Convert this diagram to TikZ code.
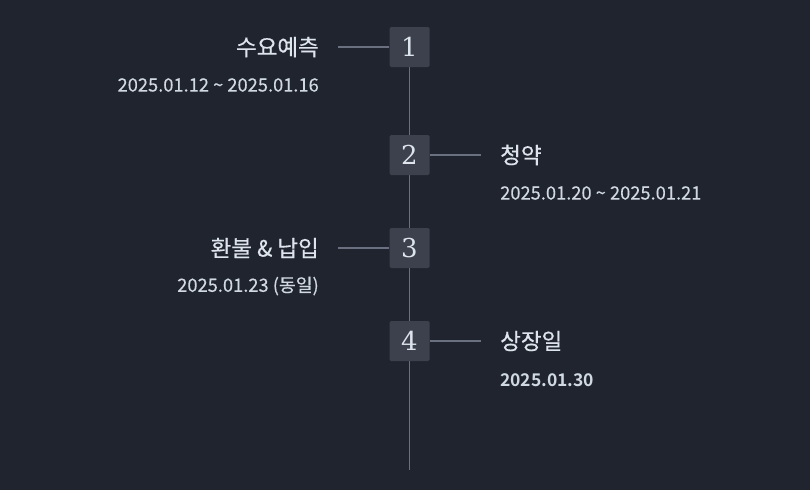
\documentclass[tikz,border=0pt]{standalone}
\usepackage{fontspec}
\setmainfont{Liberation Serif}
\newfontfamily\kr[FakeBold=0.4]{Noto Sans CJK KR}
\newfontfamily\krd[FakeBold=0.2]{Noto Sans CJK KR}
\newfontfamily\krb{Noto Sans CJK KR Bold}
\newfontfamily\numf{DejaVu Serif}
\begin{document}
\begin{tikzpicture}[x=1pt,y=-1pt,
  bg/.style={fill={rgb,255:red,32;green,36;blue,47}},
  stepbox/.style={fill={rgb,255:red,60;green,65;blue,77},rounded corners=1.5pt,minimum width=40pt,minimum height=40pt,inner sep=0pt,font=\numf\fontsize{26}{26}\selectfont,text={rgb,255:red,222;green,228;blue,236}},
  conn/.style={draw={rgb,255:red,107;green,112;blue,128},line width=1.2pt},
  ttl/.style={font=\kr\fontsize{22.5}{22.5}\selectfont,text={rgb,255:red,222;green,228;blue,236},inner sep=0pt},
  dt/.style={font=\krd\fontsize{18.3}{18.3}\selectfont,text={rgb,255:red,208;green,216;blue,226},inner sep=0pt}
]
\fill[bg] (0,0) rectangle (810,490);
\useasboundingbox (0,0) rectangle (810,490);
\coordinate (top) at (409.5,66);
\coordinate (bot) at (409.5,470);
\draw[conn] (top) -- (bot);
\node[stepbox] (s1) at (409.5,47) {1};
\node[stepbox] (s2) at (409.5,155) {2};
\node[stepbox] (s3) at (409.5,248) {3};
\node[stepbox] (s4) at (409.5,341) {4};
\coordinate (e1) at (338,47);
\coordinate (e2) at (481,155);
\coordinate (e3) at (338,248);
\coordinate (e4) at (481,341);
\draw[conn] (s1.west) -- (e1);
\draw[conn] (s2.east) -- (e2);
\draw[conn] (s3.west) -- (e3);
\draw[conn] (s4.east) -- (e4);
\node[ttl,anchor=east] (t1) at (319,47) {수요예측};
\node[dt,anchor=east] (d1) at (319,85) {2025.01.12 \textasciitilde{} 2025.01.16};
\node[ttl,anchor=west] (t2) at (500,155) {청약};
\node[dt,anchor=west] (d2) at (500,193) {2025.01.20 \textasciitilde{} 2025.01.21};
\node[ttl,anchor=east] (t3) at (319,248) {환불 \& 납입};
\node[dt,anchor=east] (d3) at (319,286) {2025.01.23 (동일)};
\node[ttl,anchor=west] (t4) at (500,341) {상장일};
\node[dt,anchor=west,font=\krb\fontsize{17.5}{17.5}\selectfont] (d4) at (500,380) {2025.01.30};
\end{tikzpicture}
\end{document}
